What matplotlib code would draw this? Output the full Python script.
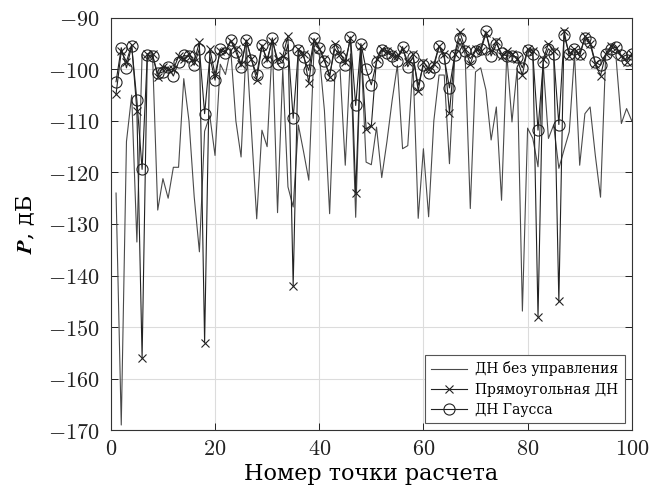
import matplotlib
matplotlib.use("Agg")
import matplotlib.pyplot as plt
import numpy as np

plt.rcParams['mathtext.fontset'] = 'cm'
plt.rcParams['font.family'] = ['DejaVu Serif']

points = list(range(1, 101))

uncontrolled = [-124, -169, -114, -105, -133.5, -97, -98, -97, -127.3, -121.2,
                -125, -119, -119, -101.8, -110, -124.7, -135.4, -112, -109, -116.7,
                -99, -101, -96, -110, -117, -95, -112, -129, -111.8, -115,
                -95, -127.8, -100, -122.8, -126.7, -110.8, -116, -121.5, -96, -97,
                -108, -128, -101, -100, -118.6, -97, -128.7, -96, -118, -118.5,
                -111.2, -121, -114, -106, -99.2, -115.4, -114.8, -99, -128.9, -115.4,
                -128.6, -110, -101.1, -101.1, -118.3, -98, -95, -97, -127, -100.5,
                -99.7, -104, -113.7, -107.3, -125.4, -97, -110.2, -99.8, -146.9, -111.4,
                -113.4, -118.9, -99, -113.4, -110.8, -119.2, -115.6, -112.1, -97, -118.6,
                -108.6, -107.3, -116.7, -124.8, -97, -97, -98, -110.5, -107.6, -110]

rectangular = [-104.8, -96.5, -98.5, -95.2, -108, -156, -97, -97, -101.5, -99.5,
               -100, -100, -97.5, -98, -97, -98.5, -94.7, -153, -96, -101,
               -96.5, -96.5, -94.5, -96, -99, -94.5, -98, -102, -95.5, -98,
               -94.5, -98, -97.5, -93.5, -142, -96, -97, -102.6, -94.5, -96,
               -98, -101.5, -95, -97, -98.5, -94, -124, -95.5, -111.5, -111,
               -98, -96, -96.5, -97, -97.5, -96, -98.5, -97, -104.2, -98.5,
               -100, -99, -95.5, -97, -108.4, -97, -92.7, -96, -99, -96,
               -96.5, -93, -96.5, -94.5, -97.5, -96.5, -97, -98, -101.1, -96,
               -96.5, -148, -98, -95, -96.5, -145, -92.5, -97.5, -96, -97.5,
               -93.5, -95, -99, -101.2, -97, -95.5, -95.8, -97.5, -98.5, -97]

gauss = [-102.4, -95.8, -99.7, -95.5, -106, -119.4, -97.3, -97.4, -100.8, -100.5,
         -99.5, -101.3, -98.6, -97.3, -97.5, -99.2, -96, -108.6, -97.6, -102.1,
         -96, -96.9, -94.3, -96.6, -99.5, -94.3, -98.2, -101, -95.2, -98.6,
         -93.9, -99, -98.6, -95.2, -109.5, -96.3, -97.6, -100.2, -94, -95.8,
         -98.4, -101.1, -96, -97.6, -99.1, -93.7, -107, -95, -100, -103,
         -98.6, -96.3, -96.8, -97.4, -98.3, -95.6, -99.5, -97.6, -103.1, -99.2,
         -100.8, -99.5, -95.5, -97.8, -103.6, -97.3, -94, -96.5, -97.9, -96.5,
         -96, -92.6, -97.4, -95, -96.9, -97.4, -97.4, -97.6, -99.7, -96.3,
         -97, -111.8, -98.6, -96, -97, -110.7, -93.4, -97, -96, -97,
         -94, -94.7, -98.6, -99.2, -97, -96, -95.7, -97.3, -98.2, -97]

labels = ['ДН без управления', 'Прямоугольная ДН', 'ДН Гаусса']
xticks = [0, 20, 40, 60, 80, 100]
yticks = [-170, -160, -150, -140, -130, -120, -110, -100, -90]

fig = plt.figure(figsize=(6.52, 4.95), dpi=100)
ax = fig.add_axes([0.170, 0.131, 0.799, 0.833])

ax.plot(points, uncontrolled, color='#4a4a4a', lw=0.8, label=labels[0])
ax.plot(points, rectangular, color='#222222', lw=0.8, marker='x', ms=5.5,
        mew=0.8, label=labels[1])
ax.plot(points, gauss, color='#222222', lw=0.8, marker='o', ms=8,
        mfc='none', mew=0.8, label=labels[2])

ax.set_xlim(0, 100)
ax.set_ylim(-170, -90)
ax.set_xticks(xticks)
ax.set_yticks(yticks)
ax.set_xticklabels([f'${t}$' for t in xticks], fontsize=16)
ax.set_yticklabels([f'${t}$' for t in yticks], fontsize=16)
ax.tick_params(axis='both', direction='in', top=True, right=True, length=5,
               width=0.7, colors='#222222')
ax.tick_params(axis='y', pad=8)
ax.tick_params(axis='x', pad=6)
ax.grid(True, color='#dcdcdc', lw=0.8)
ax.set_axisbelow(True)
for s in ax.spines.values():
    s.set_color('#333333')
    s.set_linewidth(0.8)

ax.set_xlabel('Номер точки расчета', fontsize=16, labelpad=2)
ax.set_ylabel(r'$\boldsymbol{P}$, дБ', fontsize=16, labelpad=8)

leg = ax.legend(loc='lower right', fontsize=10, frameon=True, fancybox=False,
                edgecolor='#555555', framealpha=1, borderaxespad=0.5,
                handlelength=2.6, handletextpad=0.6, labelspacing=0.45,
                borderpad=0.45)
leg.get_frame().set_linewidth(0.8)

fig.savefig('out.png', dpi=100)
